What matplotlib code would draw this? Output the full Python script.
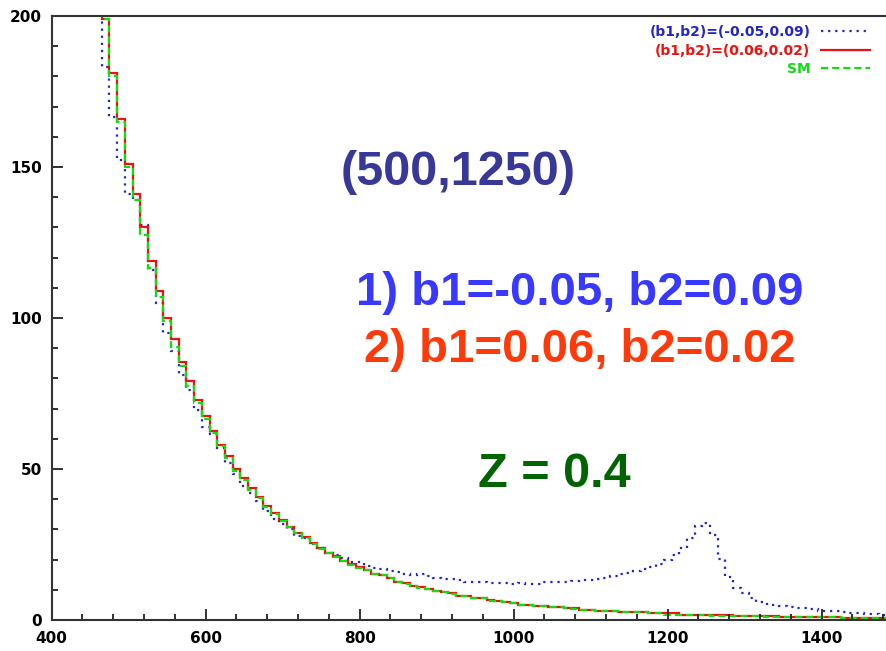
import matplotlib
matplotlib.use("Agg")
import matplotlib.pyplot as plt
from matplotlib.ticker import MultipleLocator
import numpy as np

# 10 GeV bins, lower edges 455 ... 1485
bin_edges = np.arange(455, 1496, 10)

# (b1,b2)=(-0.05,0.09)
hist_p1 = [205, 183, 166.7, 152.3, 141, 139, 130.8, 116, 105, 95,
           89, 81, 76, 69.5, 64, 61.5, 57, 52, 48.5, 44.5,
           42, 39.5, 36, 33.4, 31.8, 30, 27.8, 27.2, 25.2, 24,
           22.3, 21.5, 20.4, 19.3, 19.1, 18, 17.2, 16.9, 16.2, 15.9,
           15.2, 14.9, 15.1, 14.6, 14.0, 13.6, 13.6, 13.2, 12.7, 12.7,
           12.5, 12.4, 12.4, 12.4, 11.8, 12.4, 12.0, 12.0, 12.5, 12.7,
           12.7, 12.5, 12.8, 13.1, 13.2, 13.7, 14.0, 14.6, 15.1, 15.5,
           16.2, 17.0, 17.7, 18.5, 19.9, 21.6, 23.9, 27.2, 31.0, 32.2,
           28.0, 20.2, 14.3, 10.7, 8.8, 7.2, 6.1, 5.3, 5.0, 4.6,
           4.2, 4.1, 3.9, 3.5, 3.1, 3.1, 2.9, 2.5, 2.2, 2.2,
           2.0, 2.0, 1.7, 1.6]

# (b1,b2)=(0.06,0.02)
hist_p2 = [218, 199, 181, 166, 151, 141, 130, 119, 109, 100,
           93, 85.5, 79, 73, 67.6, 62.7, 58, 54.4, 50, 47,
           43.6, 40.6, 37.7, 35.5, 33.1, 30.9, 28.9, 27.4, 25.4, 23.7,
           22.3, 21.2, 19.6, 18.5, 17.4, 16.6, 15.2, 14.9, 14.0, 12.7,
           12.1, 11.4, 10.8, 10.3, 9.7, 9.4, 8.8, 8.1, 8.1, 7.4,
           7.3, 6.5, 6.4, 6.0, 5.5, 5.1, 5.1, 4.6, 4.6, 4.3,
           4.3, 3.9, 3.9, 3.4, 3.4, 3.1, 3.1, 3.1, 2.6, 2.6,
           2.6, 2.6, 2.2, 2.2, 2.2, 2.2, 1.8, 1.8, 1.8, 1.8,
           1.8, 1.8, 1.8, 1.3, 1.3, 1.3, 1.3, 1.3, 1.3, 1.0,
           1.0, 1.0, 1.0, 1.0, 1.0, 1.0, 1.0, 0.6, 0.6, 0.6,
           0.6, 0.6, 0.6, 0.6]

# SM
hist_sm = [220, 199, 180, 165, 150, 139, 127.5, 116.5, 107, 99,
           90.5, 84, 77.5, 72, 66.5, 62, 57.5, 53.5, 49.5, 46.5,
           43.2, 40.3, 37.5, 35.2, 32.8, 30.7, 28.7, 27.2, 25.2, 23.5,
           22.1, 21.0, 19.5, 18.3, 17.3, 16.5, 15.1, 14.8, 13.9, 12.6,
           12.0, 11.3, 10.7, 10.2, 9.6, 9.3, 8.7, 8.0, 8.0, 7.3,
           7.2, 6.4, 6.3, 6.0, 5.7, 5.1, 5.1, 4.6, 4.6, 4.3,
           4.2, 3.9, 3.8, 3.4, 3.4, 3.1, 3.0, 3.0, 2.6, 2.6,
           2.5, 2.5, 2.2, 2.2, 1.8, 1.7, 1.7, 1.7, 1.7, 1.7,
           1.3, 1.3, 1.3, 1.3, 1.3, 1.3, 1.3, 0.9, 0.9, 1.0,
           1.0, 1.0, 1.0, 1.0, 1.0, 1.0, 1.0, 0.6, 0.6, 0.6,
           0.6, 0.6, 0.6, 0.6]

labels = ['(b1,b2)=(-0.05,0.09)', '(b1,b2)=(0.06,0.02)', 'SM']
x_major = [400, 600, 800, 1000, 1200, 1400]
y_major = [0, 50, 100, 150, 200]

W, H = 887, 651
fig = plt.figure(figsize=(W / 100, H / 100), dpi=100)
# right edge of the frame (x=1500) falls just outside the canvas
x0, x1, ytop, ybot = 51.7, 898.7, 16, 620
ax = fig.add_axes([x0 / W, 1 - ybot / H, (x1 - x0) / W, (ybot - ytop) / H])

ax.stairs(hist_p1, bin_edges, baseline=None, color='#2424cc', lw=1.6,
          linestyle=(0, (1.0, 2.2)), label=labels[0])
ax.stairs(hist_p2, bin_edges, baseline=None, color='#ee1111', lw=1.6,
          label=labels[1])
ax.stairs(hist_sm, bin_edges, baseline=None, color='#11dd11', lw=1.6,
          linestyle=(0, (3.2, 1.8)), label=labels[2])

ax.set_xlim(400, 1500)
ax.set_ylim(0, 200)
ax.set_xticks(x_major)
ax.set_yticks(y_major)
ax.xaxis.set_minor_locator(MultipleLocator(40))
ax.yaxis.set_minor_locator(MultipleLocator(10))
ax.tick_params(which='both', direction='in', colors='#222222', width=1.3,
               top=False, right=False)
ax.tick_params(which='major', length=8)
ax.tick_params(which='minor', length=4)
ax.tick_params(axis='x', pad=8)
ax.tick_params(axis='y', pad=7)
for lab in ax.get_xticklabels() + ax.get_yticklabels():
    lab.set_fontsize(11)
    lab.set_fontweight('bold')
    lab.set_color('black')
for s in ax.spines.values():
    s.set_color('#333333')
    s.set_linewidth(1.5)

leg = ax.legend(loc='upper right', bbox_to_anchor=(870 / W, 1 - 25 / H),
                bbox_transform=fig.transFigure, frameon=False,
                markerfirst=False, labelcolor='linecolor', handlelength=3.5,
                handletextpad=0.8, labelspacing=0.33, borderpad=0,
                borderaxespad=0,
                prop={'family': 'DejaVu Sans', 'weight': 'bold', 'size': 10})

big = dict(family='Liberation Sans', weight='bold', ha='center', va='baseline')
fig.text(458 / W, 1 - 185 / H, '(500,1250)', color='#383898', fontsize=35, **big)
fig.text(580 / W, 1 - 305 / H, '1) b1=-0.05, b2=0.09', color='#3838ff',
         fontsize=34, **big)
fig.text(580 / W, 1 - 362 / H, '2) b1=0.06, b2=0.02', color='#ff3a0a',
         fontsize=34, **big)
fig.text(554 / W, 1 - 487 / H, 'Z = 0.4', color='#006400', fontsize=35, **big)

fig.savefig('out.png', dpi=100)
